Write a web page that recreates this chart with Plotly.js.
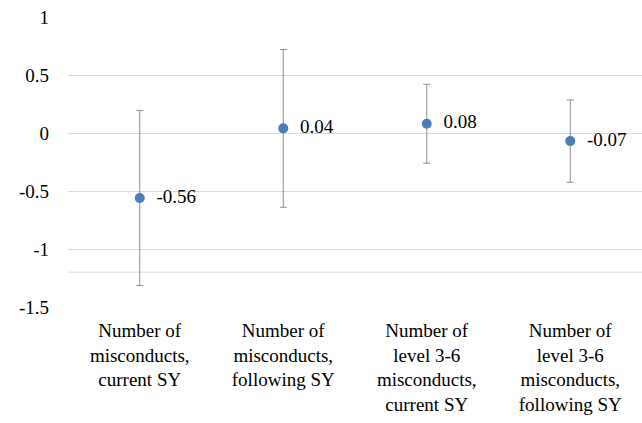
<!DOCTYPE html>
<html>
<head>
<meta charset="utf-8">
<script src="https://cdn.plot.ly/plotly-3.0.1.min.js"></script>
<style>html,body{margin:0;padding:0;background:#fff;}#chart{width:642px;height:423px;}
#chart text{font-family:"Liberation Serif","Times New Roman",serif !important;}</style>
</head>
<body>
<div id="chart"></div>
<script>
const categories = [
  "Number of<br>misconducts,<br>current SY",
  "Number of<br>misconducts,<br>following SY",
  "Number of<br>level 3-6<br>misconducts,<br>current SY",
  "Number of<br>level 3-6<br>misconducts,<br>following SY"
];
const estimates = [-0.56, 0.04, 0.08, -0.07];
const errors = [0.755, 0.68, 0.34, 0.355];
const valueLabels = ["-0.56", "0.04", "0.08", "-0.07"];
const yTickVals = [-1.5, -1, -0.5, 0, 0.5, 1];
const yTickText = ["-1.5", "-1", "-0.5", "0", "0.5", "1"];
const extraLineY = -1.2;

const font = "Liberation Serif";

const trace = {
  x: categories,
  y: estimates,
  type: "scatter",
  mode: "markers+text",
  text: valueLabels.map(s => "\u00a0\u00a0" + s),
  textposition: "middle right",
  textfont: {family: font, size: 19, color: "#000"},
  marker: {color: "#4a7ebb", size: 10},
  error_y: {type: "data", array: errors, visible: true, color: "#8c8c8c", thickness: 1, width: 3.5},
  cliponaxis: false,
  hoverinfo: "none"
};

const layout = {
  width: 642, height: 423,
  margin: {l: 68, r: 0, t: 17, b: 116},
  paper_bgcolor: "#fff", plot_bgcolor: "#fff",
  showlegend: false,
  font: {family: font, size: 19, color: "#000"},
  xaxis: {
    type: "category",
    range: [-0.5, 3.5],
    showgrid: false, zeroline: false, showline: false,
    ticks: "", ticklabelstandoff: 10,
    tickfont: {family: font, size: 19, color: "#000"}
  },
  yaxis: {
    range: [-1.5, 1],
    tickvals: yTickVals, ticktext: yTickText,
    showgrid: true, gridcolor: "#d9d9d9", gridwidth: 1,
    zeroline: false, showline: false, ticks: "",
    ticklabelstandoff: 18,
    tickfont: {family: font, size: 19, color: "#000"}
  },
  shapes: [{
    type: "line", xref: "paper", yref: "y", x0: 0, x1: 1, y0: extraLineY, y1: extraLineY,
    line: {color: "#d9d9d9", width: 1}, layer: "below"
  }]
};

Plotly.newPlot("chart", [trace], layout, {displayModeBar: false, staticPlot: true});
</script>
</body>
</html>
